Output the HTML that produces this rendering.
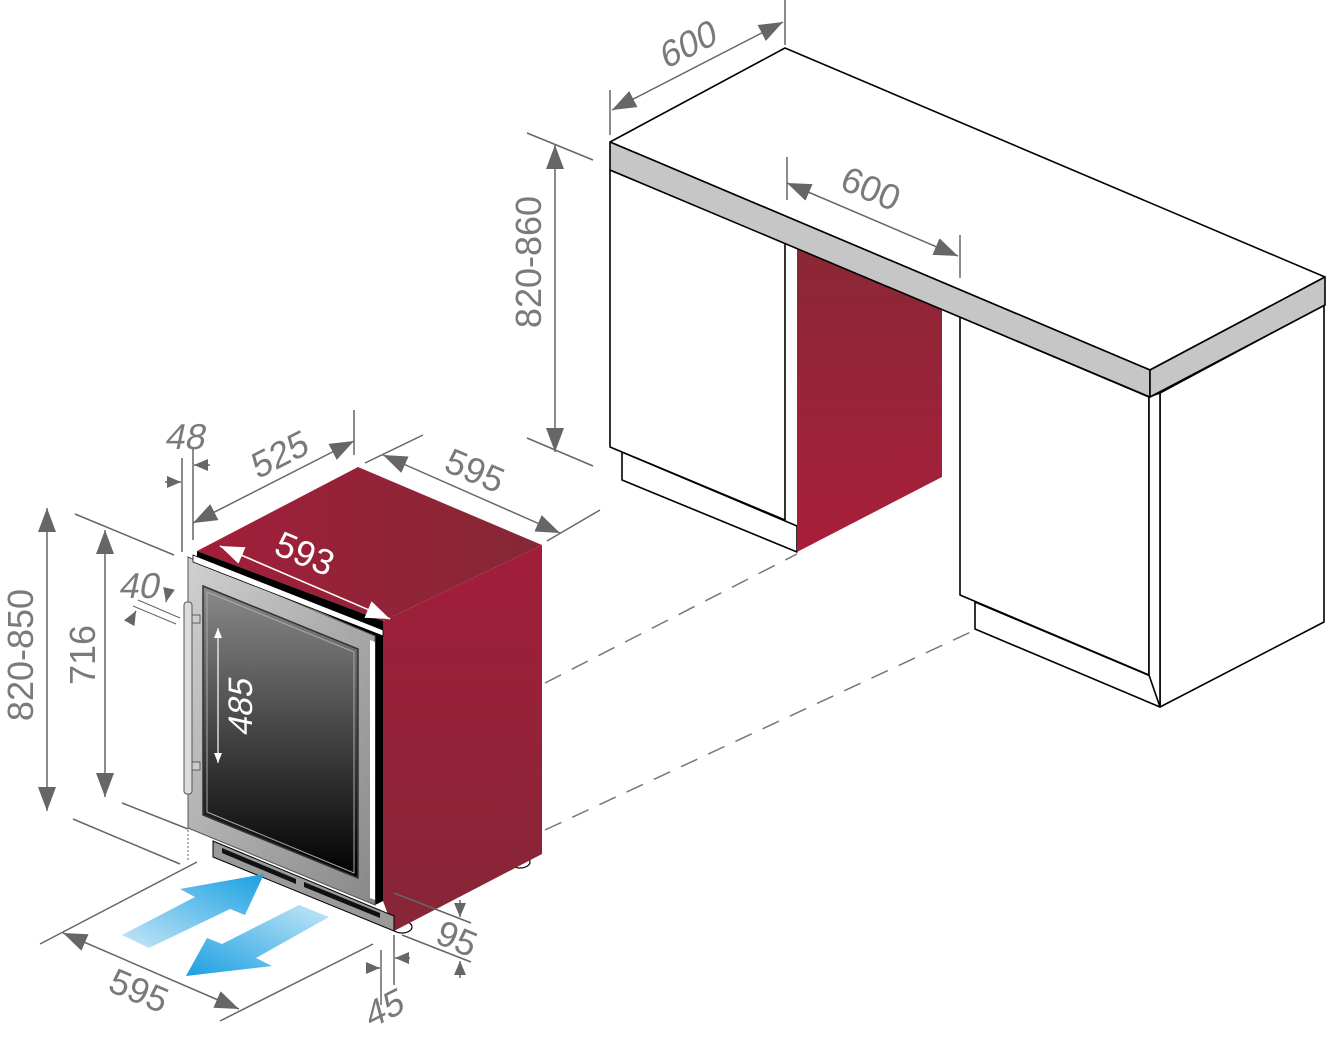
<!DOCTYPE html>
<html><head><meta charset="utf-8"><style>
html,body{margin:0;padding:0;background:#fff;width:1328px;height:1041px;overflow:hidden}
svg{display:block}
.d{fill:#7a7a7a;font-family:"Liberation Sans",sans-serif;font-size:36px}
.w{fill:#fff;font-family:"Liberation Sans",sans-serif;font-size:36px}
</style></head><body>
<svg width="1328" height="1041" viewBox="0 0 1328 1041" xmlns="http://www.w3.org/2000/svg">
<defs>
<marker id="a" markerUnits="userSpaceOnUse" markerWidth="26" markerHeight="20" refX="24" refY="9" orient="auto-start-reverse"><path d="M0,0 L24,9 L0,18 Z" fill="#666"/></marker>
<marker id="s" markerUnits="userSpaceOnUse" markerWidth="16" markerHeight="14" refX="14" refY="6" orient="auto-start-reverse"><path d="M0,0 L14,6 L0,12 Z" fill="#666"/></marker>
<marker id="wa" markerUnits="userSpaceOnUse" markerWidth="26" markerHeight="20" refX="24" refY="9" orient="auto-start-reverse"><path d="M0,0 L24,9 L0,18 Z" fill="#fff"/></marker>
<marker id="ws" markerUnits="userSpaceOnUse" markerWidth="12" markerHeight="10" refX="10" refY="4" orient="auto-start-reverse"><path d="M0,0 L10,4 L0,8 Z" fill="#fff"/></marker>
<linearGradient id="red" x1="0" y1="0" x2="0" y2="1"><stop offset="0" stop-color="#8a2836"/><stop offset="1" stop-color="#a81e3a"/></linearGradient>
<linearGradient id="topr" x1="0" y1="0" x2="1" y2="0"><stop offset="0" stop-color="#a21e3a"/><stop offset="1" stop-color="#852835"/></linearGradient>
<linearGradient id="side" x1="0" y1="0" x2="0" y2="1"><stop offset="0" stop-color="#a21e3a"/><stop offset="1" stop-color="#862636"/></linearGradient>
<linearGradient id="glass" x1="0" y1="0" x2="0" y2="1"><stop offset="0" stop-color="#8a8a8a"/><stop offset="1" stop-color="#000"/></linearGradient>
<linearGradient id="frame" x1="0" y1="0" x2="1" y2="1"><stop offset="0" stop-color="#d0d0d0"/><stop offset="1" stop-color="#888"/></linearGradient>
<linearGradient id="b1" x1="0" y1="1" x2="1" y2="0"><stop offset="0" stop-color="#c6e6f7"/><stop offset="1" stop-color="#1aa0e2"/></linearGradient>
<linearGradient id="b2" x1="1" y1="0" x2="0" y2="1"><stop offset="0" stop-color="#c6e6f7"/><stop offset="1" stop-color="#1aa0e2"/></linearGradient>
</defs>

<g stroke="#000" stroke-width="1.6" fill="#fff" stroke-linejoin="round">
<polygon points="622,452 797,526 797,552 622,480"/>
<polygon points="610,170 785,243 785,520 610,447"/>
<polygon points="975,602 1160,680 1160,707 975,629"/>
<polygon points="1160,393 1324,305 1324,622 1160,707"/>
<polygon points="960,317 1149,397 1149,675 960,595"/>
<polygon points="1149,397 1160,393 1160,707 1149,675"/>
</g>
<polygon points="797,248 942,308 942,477 797,552" fill="url(#red)"/>
<g stroke="#000" stroke-width="1.6" stroke-linejoin="round">
<polygon points="610,142 785,48 1325,277 1150,370" fill="#fff"/>
<polygon points="610,142 1150,370 1150,397 610,170" fill="#c6c6c6"/>
<polygon points="1150,370 1325,277 1325,305 1150,397" fill="#c6c6c6"/>
</g>
<g stroke="#777" stroke-width="1.5" stroke-dasharray="18,12" fill="none">
<line x1="545" y1="683" x2="797" y2="554"/>
<line x1="545" y1="830" x2="975" y2="630"/>
</g>

<g stroke="#666" stroke-width="1.5" fill="none">
<line x1="610" y1="90" x2="610" y2="135"/>
<line x1="785" y1="0" x2="785" y2="45"/>
<line x1="612" y1="110" x2="783" y2="22" marker-start="url(#a)" marker-end="url(#a)"/>
<line x1="527" y1="133" x2="593" y2="160"/>
<line x1="527" y1="438" x2="593" y2="466"/>
<line x1="555" y1="145" x2="555" y2="452" marker-start="url(#a)" marker-end="url(#a)"/>
<line x1="787" y1="157" x2="787" y2="200"/>
<line x1="960" y1="235" x2="960" y2="278"/>
<line x1="787" y1="183" x2="958" y2="256" marker-start="url(#a)" marker-end="url(#a)"/>
</g>
<text class="d" transform="translate(692,56) rotate(-27) skewX(-12)" text-anchor="middle">600</text>
<text class="d" transform="translate(541,262) rotate(-90)" text-anchor="middle">820-860</text>
<text class="d" transform="translate(866,200) rotate(23)" text-anchor="middle">600</text>

<ellipse cx="520" cy="862" rx="10" ry="6" fill="#fff" stroke="#000" stroke-width="1.2"/>
<ellipse cx="402" cy="927" rx="10" ry="6" fill="#fff" stroke="#000" stroke-width="1.2"/>
<polygon points="197,551 358,467 542,545 383,621" fill="url(#topr)"/>
<polygon points="383,621 542,545 542,854 394,931 383,901" fill="url(#side)"/>
<polygon points="213,841 394,916 394,931 213,857" fill="#9a9a9a" stroke="#000" stroke-width="1"/>
<polygon points="222,848 296,879 296,884 222,853" fill="#111"/>
<polygon points="304,882 380,913 380,918 304,887" fill="#111"/>
<polygon points="197,551 383,621 383,901 375,905 375,636 197,558" fill="#000"/>
<polygon points="188,557 375,636 375,905 188,828" fill="url(#frame)" stroke="#555" stroke-width="1"/>
<polygon points="193,555 383,630 383,636 193,562" fill="#fff" stroke="#000" stroke-width="0.8"/>
<polygon points="370,640 375,642 375,900 370,898" fill="#fff"/>
<polygon points="203,586 358,649 358,878 203,815" fill="url(#glass)" stroke="#333" stroke-width="1.5"/>
<polygon points="207,592 354,652 354,873 207,812" fill="none" stroke="#aaa" stroke-width="1"/>
<rect x="190" y="615" width="10" height="8" fill="#ccc" stroke="#444" stroke-width="0.8"/>
<rect x="190" y="762" width="10" height="8" fill="#ccc" stroke="#444" stroke-width="0.8"/>
<rect x="184" y="602" width="8" height="192" rx="3" fill="#ddd" stroke="#555" stroke-width="1"/>
<line x1="188" y1="830" x2="188" y2="862" stroke="#666" stroke-width="1" stroke-dasharray="2,2"/>

<polygon points="122,935 195,897 180,889 264,874 245,915 230,909 149,948" fill="url(#b1)"/>
<polygon points="329,917 299,905 222,944 207,938 186,976 272,966 256,958" fill="url(#b2)"/>

<g stroke="#666" stroke-width="1.5" fill="none">
<line x1="75" y1="514" x2="174" y2="555"/>
<line x1="73" y1="819" x2="180" y2="864"/>
<line x1="47" y1="508" x2="47" y2="811" marker-start="url(#a)" marker-end="url(#a)"/>
<line x1="122" y1="803" x2="188" y2="829"/>
<line x1="105" y1="530" x2="105" y2="797" marker-start="url(#a)" marker-end="url(#a)"/>
<line x1="182" y1="458" x2="182" y2="552"/>
<line x1="193" y1="448" x2="193" y2="540"/>
<line x1="165" y1="482" x2="181" y2="482" marker-end="url(#s)"/>
<line x1="210" y1="465" x2="194" y2="465" marker-end="url(#s)"/>
<line x1="354" y1="410" x2="354" y2="455"/>
<line x1="193" y1="523" x2="354" y2="441" marker-start="url(#a)" marker-end="url(#a)"/>
<line x1="365" y1="463" x2="423" y2="435"/>
<line x1="547" y1="541" x2="600" y2="510"/>
<line x1="383" y1="455" x2="560" y2="533" marker-start="url(#a)" marker-end="url(#a)"/>
<line x1="138" y1="600" x2="180" y2="618" stroke-width="1"/>
<line x1="133" y1="606" x2="176" y2="624" stroke-width="1"/>
<line x1="168" y1="593" x2="166" y2="602" marker-end="url(#s)"/>
<line x1="131" y1="620" x2="136" y2="611" marker-end="url(#s)"/>
<line x1="40" y1="944" x2="197" y2="862"/>
<line x1="220" y1="1021" x2="373" y2="944"/>
<line x1="63" y1="933" x2="239" y2="1009" marker-start="url(#a)" marker-end="url(#a)"/>
<line x1="381" y1="950" x2="381" y2="1005"/>
<line x1="394" y1="935" x2="394" y2="985"/>
<line x1="366" y1="968" x2="380" y2="968" marker-end="url(#s)"/>
<line x1="410" y1="958" x2="395" y2="958" marker-end="url(#s)"/>
<line x1="394" y1="893" x2="471" y2="923"/>
<line x1="402" y1="935" x2="471" y2="962"/>
<line x1="460" y1="900" x2="460" y2="917" marker-end="url(#s)"/>
<line x1="460" y1="978" x2="460" y2="961" marker-end="url(#s)"/>
</g>
<g stroke="#fff" stroke-width="1.6" fill="none">
<line x1="220" y1="546" x2="390" y2="619" marker-start="url(#wa)" marker-end="url(#wa)"/>
<line x1="218" y1="628" x2="218" y2="763" stroke-width="1.2" marker-start="url(#ws)" marker-end="url(#ws)"/>
</g>
<text class="d" transform="translate(33,655) rotate(-90)" text-anchor="middle">820-850</text>
<text class="d" transform="translate(95,655) rotate(-90)" text-anchor="middle">716</text>
<text class="d" transform="translate(184,449) skewX(-12)" text-anchor="middle">48</text>
<text class="d" transform="translate(284,466) rotate(-27) skewX(-8)" text-anchor="middle">525</text>
<text class="d" transform="translate(470,482) rotate(23)" text-anchor="middle">595</text>
<text class="w" transform="translate(300,565) rotate(23)" text-anchor="middle">593</text>
<text class="d" transform="translate(138,598) skewX(-12)" text-anchor="middle">40</text>
<text class="w" transform="translate(252,708) rotate(-90) skewX(-12)" text-anchor="middle" style="font-size:34px">485</text>
<text class="d" transform="translate(134,1002) rotate(23)" text-anchor="middle">595</text>
<text class="d" transform="translate(388,1020) rotate(-27) skewX(-12)" text-anchor="middle">45</text>
<text class="d" transform="translate(452,950) rotate(23)" text-anchor="middle">95</text>
</svg>
</body></html>
